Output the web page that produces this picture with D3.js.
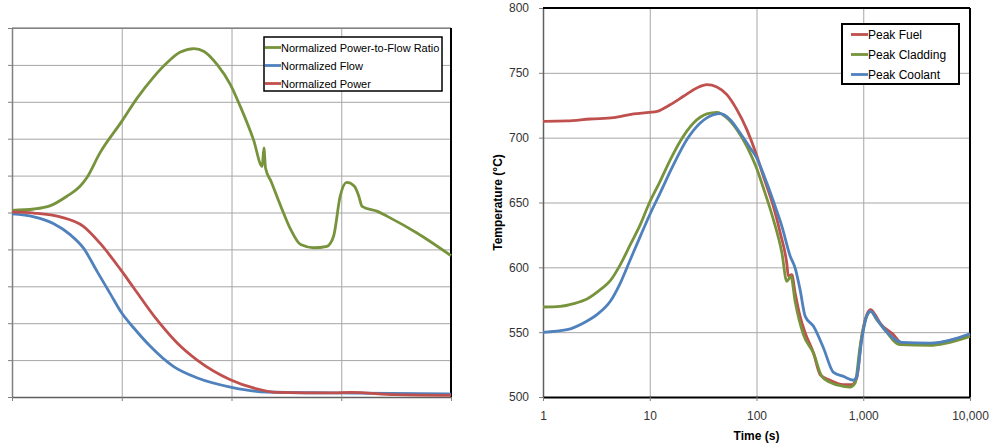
<!DOCTYPE html>
<html>
<head>
<meta charset="utf-8">
<script src="https://cdn.jsdelivr.net/npm/d3@7"></script>
<style>
  body { margin: 0; background: #fff; }
  svg { display: block; font-family: "Liberation Sans", Arial, sans-serif; }
</style>
</head>
<body>
<div id="chart"></div>
<script>
// left panel: normalized values (no tick labels in the source)
var ratioX = [0, 2, 3.5, 5, 6.2, 6.8, 8, 10, 11.4, 12.9, 14.1, 15.3, 16.6, 17.5, 18.7, 19.9, 20.8, 22, 22.8, 22.95, 23.1, 23.6, 24.5, 25.4, 26.3, 27.5, 28.7, 29.3, 29.9, 30.5, 31.2, 31.6, 31.9, 33.3, 34.2, 36.9, 40];
var ratioY = [1.012, 1.019, 1.037, 1.088, 1.142, 1.187, 1.322, 1.494, 1.62, 1.734, 1.81, 1.868, 1.888, 1.873, 1.801, 1.693, 1.575, 1.395, 1.25, 1.35, 1.241, 1.169, 1.033, 0.907, 0.826, 0.809, 0.817, 0.871, 1.088, 1.163, 1.142, 1.088, 1.033, 1.006, 0.979, 0.889, 0.766];
var flowX = [0, 2, 3.8, 5.3, 6.5, 7.75, 9, 10, 11.1, 12.6, 14.7, 16.9, 19.9, 23.2, 29.3, 40];
var flowY = [0.992, 0.976, 0.939, 0.88, 0.808, 0.681, 0.555, 0.455, 0.374, 0.275, 0.166, 0.103, 0.054, 0.027, 0.022, 0.016];
var powerX = [0, 2, 4.4, 6.5, 8, 9.9, 11.1, 13.2, 15.05, 16.9, 19.9, 22, 24.2, 29.3, 30.9, 34.9, 40];
var powerY = [1.003, 0.997, 0.976, 0.925, 0.835, 0.69, 0.591, 0.419, 0.293, 0.199, 0.094, 0.049, 0.025, 0.022, 0.025, 0.013, 0.009];
var leftXTicks = [0, 10, 20, 30, 40];
var leftYTicks = [0, 0.2, 0.4, 0.6, 0.8, 1.0, 1.2, 1.4, 1.6, 1.8, 2.0];
var leftNames = ["Normalized Power-to-Flow Ratio", "Normalized Flow", "Normalized Power"];

// right panel: peak temperatures vs time (s), log axis
var fuelT = [1, 1.68, 2.77, 4.59, 7.06, 9.9, 11.7, 15.5, 20.7, 27.6, 34.3, 42.5, 52.8, 65.5, 81.2, 98.6, 116, 144, 167, 192, 199, 214, 230, 256, 286, 342, 395, 490, 653, 780, 869, 968, 1079, 1175, 1290, 1436, 1914, 2291, 2948, 4226, 6030, 10000];
var fuelC = [712.6, 712.9, 714.4, 715.4, 718.3, 719.5, 720.3, 725.4, 731.9, 738.3, 740.9, 739.1, 733.2, 721.6, 706.2, 688.2, 670.2, 647, 626.5, 603.3, 593.1, 594.3, 580.2, 562.2, 549.4, 533.9, 517.2, 512.9, 509.5, 509.5, 514.7, 546.8, 563.5, 567.4, 563.5, 557.1, 548.1, 541.6, 540.9, 541.1, 542.9, 548.1];
var cladT = [1, 1.45, 1.94, 2.58, 3.44, 4.27, 5.3, 6.57, 8.15, 9.9, 12.5, 15.6, 19.3, 25.7, 34.3, 42.5, 52.8, 65.5, 81.2, 98.6, 116, 144, 173, 192, 210, 230, 275, 342, 409, 490, 653, 753, 839, 934, 1079, 1175, 1337, 1544, 2213, 4226, 6030, 10000];
var cladC = [569.4, 569.9, 572, 575.6, 582.8, 589.7, 602.1, 617.5, 632.9, 649.6, 666.3, 683, 697.2, 711.3, 718.3, 719.5, 715.2, 706.2, 693.3, 677.9, 661.2, 636.8, 611.1, 589.2, 593.1, 573.8, 548.1, 533.9, 515.9, 511.3, 508.2, 507.7, 510.8, 539.1, 562.2, 566.1, 559.6, 553.2, 540.4, 539.8, 541.6, 546.8];
var coolT = [1, 1.68, 2.4, 3.2, 4.27, 5.3, 6.57, 8.15, 9.9, 12.5, 16.7, 22.3, 29.7, 39.6, 45.7, 56.7, 70.3, 87.3, 98.6, 125, 144, 173, 207, 230, 256, 286, 342, 424, 526, 653, 809, 869, 968, 1079, 1175, 1337, 1544, 2291, 4226, 10000];
var coolC = [549.9, 551.9, 557.1, 563.5, 573.8, 587.9, 605.9, 623.9, 639.8, 657.3, 679.2, 698.5, 711.3, 717.7, 718.5, 713.9, 703.6, 692, 685.6, 665, 650.9, 631.6, 608.5, 599.5, 582.8, 562.2, 554.5, 537.8, 519, 515.9, 512.9, 515.9, 544.2, 562.7, 566.1, 560.2, 553.2, 542.2, 541.6, 548.8];
var rightXTicks = [1, 10, 100, 1000, 10000];
var rightYTicks = [500, 550, 600, 650, 700, 750, 800];
var rightNames = ["Peak Fuel", "Peak Cladding", "Peak Coolant"];

var green = "#77933c", blue = "#4f81bd", red = "#c0504d";
var gridColor = "#a6a6a6";

var svg = d3.select("#chart").append("svg")
    .attr("width", 992)
    .attr("height", 445);

function zip(xs, ys) { return xs.map((x, i) => [x, ys[i]]); }

// ---------- left panel ----------
var L = { left: 12, top: 28, width: 439, height: 369 };
var gl = svg.append("g").attr("transform", "translate(" + L.left + "," + L.top + ")");

var lx = d3.scaleLinear().domain([0, 40]).range([0, L.width]);
var ly = d3.scaleLinear().domain([0, 2]).range([L.height, 0]);

gl.append("g")
    .attr("transform", "translate(0," + L.height + ")")
    .call(d3.axisBottom(lx).tickValues(leftXTicks).tickSize(-L.height).tickFormat(""))
    .call(g => g.selectAll(".tick line").attr("stroke", gridColor))
    .call(g => g.select(".domain").remove());
gl.append("g")
    .call(d3.axisLeft(ly).tickValues(leftYTicks).tickSize(-L.width).tickFormat(""))
    .call(g => g.selectAll(".tick line").attr("stroke", gridColor))
    .call(g => g.select(".domain").remove());
// outer tick marks
gl.append("g")
    .call(d3.axisLeft(ly).tickValues(leftYTicks).tickSize(4).tickSizeOuter(0).tickFormat(""))
    .call(g => g.selectAll("line").attr("stroke", "#808080"))
    .call(g => g.select(".domain").attr("stroke", "#808080").attr("stroke-width", 1.5));
gl.append("g")
    .attr("transform", "translate(0," + L.height + ")")
    .call(d3.axisBottom(lx).tickValues(leftXTicks).tickSize(4).tickSizeOuter(0).tickFormat(""))
    .call(g => g.selectAll("line").attr("stroke", "#808080"))
    .call(g => g.select(".domain").attr("stroke", "#606060").attr("stroke-width", 1.5));
gl.append("line").attr("x1", 0).attr("x2", L.width).attr("y1", 0).attr("y2", 0)
    .attr("stroke", "#606060").attr("stroke-width", 1);
gl.append("line").attr("x1", L.width).attr("x2", L.width).attr("y1", 0).attr("y2", L.height)
    .attr("stroke", "#000").attr("stroke-width", 2);

var lline = d3.line().x(d => lx(d[0])).y(d => ly(d[1])).curve(d3.curveMonotoneX);
var leftSeries = [
  { data: zip(ratioX, ratioY), color: green },
  { data: zip(flowX, flowY), color: blue },
  { data: zip(powerX, powerY), color: red }
];
leftSeries.forEach(s => {
  gl.append("path").datum(s.data)
    .attr("fill", "none").attr("stroke", s.color).attr("stroke-width", 2.8)
    .attr("stroke-linejoin", "round")
    .attr("d", lline);
});

// legend
var lleg = svg.append("g").attr("transform", "translate(264,37)");
lleg.append("rect").attr("width", 178).attr("height", 54)
    .attr("fill", "#fff").attr("stroke", "#000").attr("stroke-width", 1.5);
leftNames.forEach((n, i) => {
  var y = 10.5 + i * 18;
  lleg.append("line").attr("x1", 1).attr("x2", 17).attr("y1", y).attr("y2", y)
      .attr("stroke", leftSeries[i].color).attr("stroke-width", 2.8);
  lleg.append("text").attr("x", 17).attr("y", y + 4)
      .attr("font-size", 11).attr("fill", "#000").text(n);
});

// ---------- right panel ----------
var R = { left: 543, top: 8, width: 427, height: 389 };
var gr = svg.append("g").attr("transform", "translate(" + R.left + "," + R.top + ")");

var rx = d3.scaleLog().domain([1, 10000]).range([0, R.width]);
var ry = d3.scaleLinear().domain([500, 800]).range([R.height, 0]);

gr.append("g")
    .attr("transform", "translate(0," + R.height + ")")
    .call(d3.axisBottom(rx).tickValues(rightXTicks).tickSize(-R.height).tickFormat(""))
    .call(g => g.selectAll(".tick line").attr("stroke", gridColor))
    .call(g => g.select(".domain").remove());
gr.append("g")
    .call(d3.axisLeft(ry).tickValues(rightYTicks).tickSize(-R.width).tickFormat(""))
    .call(g => g.selectAll(".tick line").attr("stroke", gridColor))
    .call(g => g.select(".domain").remove());

var fmt = d3.format(",");
gr.append("g")
    .call(d3.axisLeft(ry).tickValues(rightYTicks).tickSize(4).tickSizeOuter(0).tickPadding(10))
    .call(g => g.selectAll("line").attr("stroke", "#808080"))
    .call(g => g.select(".domain").attr("stroke", "#606060").attr("stroke-width", 1.5))
    .call(g => g.selectAll("text").attr("font-size", 12).attr("fill", "#333")
        .attr("font-family", "Liberation Sans, Arial, sans-serif"));
gr.append("g")
    .attr("transform", "translate(0," + R.height + ")")
    .call(d3.axisBottom(rx).tickValues(rightXTicks).tickSize(4).tickSizeOuter(0).tickPadding(10).tickFormat(fmt))
    .call(g => g.selectAll("line").attr("stroke", "#808080"))
    .call(g => g.select(".domain").attr("stroke", "#000").attr("stroke-width", 2))
    .call(g => g.selectAll("text").attr("font-size", 12).attr("fill", "#333")
        .attr("font-family", "Liberation Sans, Arial, sans-serif"));
gr.append("line").attr("x1", 0).attr("x2", R.width).attr("y1", 0).attr("y2", 0)
    .attr("stroke", "#000").attr("stroke-width", 2);
gr.append("line").attr("x1", R.width).attr("x2", R.width).attr("y1", 0).attr("y2", R.height)
    .attr("stroke", "#000").attr("stroke-width", 2);

var rline = d3.line().x(d => rx(d[0])).y(d => ry(d[1])).curve(d3.curveMonotoneX);
var rightSeries = [
  { data: zip(fuelT, fuelC), color: red },
  { data: zip(cladT, cladC), color: green },
  { data: zip(coolT, coolC), color: blue }
];
rightSeries.forEach(s => {
  gr.append("path").datum(s.data)
    .attr("fill", "none").attr("stroke", s.color).attr("stroke-width", 2.8)
    .attr("stroke-linejoin", "round")
    .attr("d", rline);
});

svg.append("text")
    .attr("x", R.left + R.width / 2).attr("y", 440)
    .attr("text-anchor", "middle").attr("font-size", 12).attr("font-weight", "bold")
    .text("Time (s)");
svg.append("text")
    .attr("transform", "translate(502," + (R.top + R.height / 2) + ") rotate(-90)")
    .attr("text-anchor", "middle").attr("font-size", 12).attr("font-weight", "bold")
    .text("Temperature (°C)");

var rleg = svg.append("g").attr("transform", "translate(842,24)");
rleg.append("rect").attr("width", 117).attr("height", 60)
    .attr("fill", "#fff").attr("stroke", "#000").attr("stroke-width", 2);
rightNames.forEach((n, i) => {
  var y = 10.5 + i * 20;
  rleg.append("line").attr("x1", 9).attr("x2", 26).attr("y1", y).attr("y2", y)
      .attr("stroke", rightSeries[i].color).attr("stroke-width", 2.8);
  rleg.append("text").attr("x", 26).attr("y", y + 4.5)
      .attr("font-size", 12).attr("fill", "#000").text(n);
});
</script>
</body>
</html>
